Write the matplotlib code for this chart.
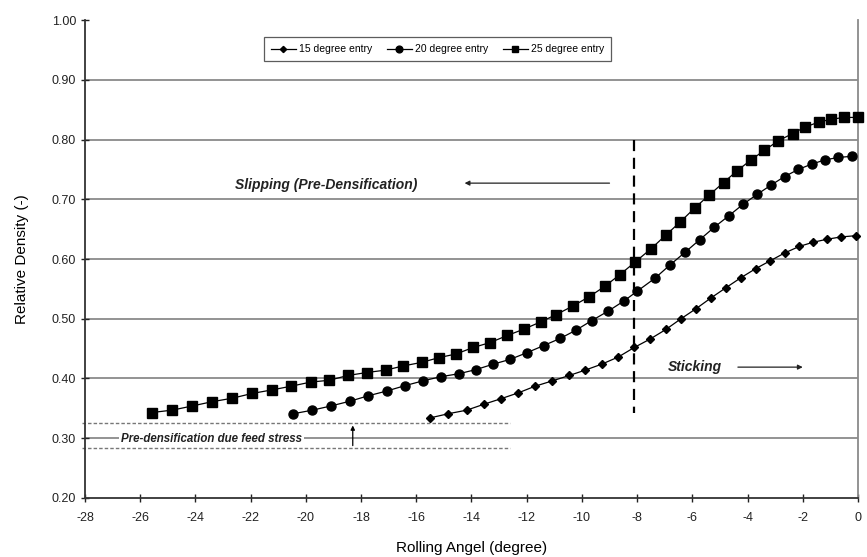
import numpy as np
import matplotlib.pyplot as plt

plt.rcParams['font.family'] = ['Liberation Sans', 'DejaVu Sans']

# relative density vs rolling angle for three entry angles
angle_25 = [-25.58, -24.84, -24.11, -23.41, -22.66, -21.94, -21.21, -20.54, -19.82, -19.15,
            -18.48, -17.79, -17.11, -16.47, -15.80, -15.17, -14.56, -13.93, -13.33, -12.70,
            -12.08, -11.48, -10.93, -10.34, -9.73, -9.18, -8.62, -8.07, -7.50, -6.96,
            -6.44, -5.90, -5.39, -4.87, -4.37, -3.87, -3.39, -2.88, -2.37, -1.91,
            -1.43, -0.97, -0.49, 0.0]
dens_25 = [0.343, 0.347, 0.354, 0.361, 0.367, 0.375, 0.381, 0.387, 0.394, 0.397,
           0.405, 0.410, 0.414, 0.421, 0.427, 0.435, 0.441, 0.452, 0.460, 0.472,
           0.483, 0.495, 0.507, 0.521, 0.537, 0.554, 0.574, 0.595, 0.617, 0.640,
           0.662, 0.686, 0.707, 0.728, 0.748, 0.766, 0.782, 0.798, 0.810, 0.821,
           0.829, 0.834, 0.837, 0.837]

angle_20 = [-20.45, -19.76, -19.09, -18.40, -17.74, -17.07, -16.41, -15.76, -15.11, -14.45,
            -13.83, -13.21, -12.60, -12.00, -11.39, -10.79, -10.21, -9.64, -9.04, -8.47,
            -8.00, -7.35, -6.81, -6.27, -5.74, -5.21, -4.69, -4.15, -3.66, -3.14,
            -2.66, -2.16, -1.67, -1.19, -0.71, -0.20]
dens_20 = [0.341, 0.347, 0.354, 0.362, 0.371, 0.379, 0.388, 0.396, 0.403, 0.408,
           0.415, 0.424, 0.432, 0.443, 0.455, 0.467, 0.481, 0.497, 0.513, 0.530,
           0.546, 0.568, 0.590, 0.611, 0.632, 0.653, 0.672, 0.692, 0.708, 0.724,
           0.738, 0.750, 0.759, 0.766, 0.770, 0.772]

angle_15 = [-15.50, -14.84, -14.17, -13.54, -12.94, -12.30, -11.70, -11.07, -10.46, -9.88,
            -9.28, -8.68, -8.10, -7.53, -6.96, -6.41, -5.86, -5.32, -4.78, -4.23,
            -3.70, -3.18, -2.66, -2.13, -1.63, -1.13, -0.61, -0.08]
dens_15 = [0.334, 0.341, 0.347, 0.357, 0.366, 0.376, 0.387, 0.396, 0.405, 0.414,
           0.424, 0.436, 0.452, 0.466, 0.482, 0.500, 0.517, 0.535, 0.552, 0.569,
           0.584, 0.597, 0.610, 0.621, 0.628, 0.633, 0.637, 0.639]

x_ticks = np.arange(-28, 1, 2)
y_ticks = np.arange(0.2, 1.01, 0.1)

fig = plt.figure(figsize=(8.67, 5.57), dpi=100)
ax = fig.add_axes([0.098, 0.106, 0.8916, 0.858])

for yv in y_ticks[1:-1]:
    ax.axhline(yv, color='#8a8a8a', lw=1.3, zorder=1)

ax.plot(angle_15, dens_15, '-D', color='black', lw=0.9, ms=4.2, label='15 degree entry', clip_on=False, zorder=3)
ax.plot(angle_20, dens_20, '-o', color='black', lw=0.9, ms=6.5, label='20 degree entry', clip_on=False, zorder=3)
ax.plot(angle_25, dens_25, '-s', color='black', lw=0.9, ms=6.5, label='25 degree entry', clip_on=False, zorder=3)

# neutral point
ax.plot([-8.1, -8.1], [0.80, 0.342], color='black', lw=1.6, dashes=(5, 3), zorder=2)

ax.text(-22.57, 0.724, 'Slipping (Pre-Densification)', fontsize=10, style='italic',
        fontweight='bold', color='#222222', va='center', ha='left')
ax.annotate('', xy=(-14.35, 0.727), xytext=(-8.9, 0.727),
            arrowprops=dict(arrowstyle='-|>', color='#222222', lw=0.9, mutation_scale=7))
ax.text(-6.88, 0.42, 'Sticking', fontsize=10, style='italic', fontweight='bold',
        color='#222222', va='center', ha='left')
ax.annotate('', xy=(-1.9, 0.419), xytext=(-4.45, 0.419),
            arrowprops=dict(arrowstyle='-|>', color='#222222', lw=0.9, mutation_scale=7))

# feed stress band
ax.plot([-28.1, -12.6], [0.326, 0.326], color='#777777', lw=1.0, ls=(0, (2.5, 1.5)), zorder=2, clip_on=False)
ax.plot([-28.1, -12.6], [0.283, 0.283], color='#777777', lw=1.0, ls=(0, (2.5, 1.5)), zorder=2, clip_on=False)
ax.text(-26.7, 0.299, 'Pre-densification due feed stress', fontsize=8.3, style='italic',
        fontweight='bold', color='#222222', va='center', ha='left', zorder=4,
        bbox=dict(boxstyle='square,pad=0.15', fc='white', ec='none'))
ax.annotate('', xy=(-18.3, 0.326), xytext=(-18.3, 0.283),
            arrowprops=dict(arrowstyle='-|>', color='black', lw=0.9, mutation_scale=6))

ax.set_xlim(-28, 0)
ax.set_ylim(0.2, 1.0)
ax.set_xticks(x_ticks)
ax.set_xticklabels([str(v) for v in x_ticks])
ax.set_yticks(y_ticks)
ax.set_yticklabels(['%.2f' % v for v in y_ticks])
ax.tick_params(axis='both', direction='inout', length=6, width=1.0, labelsize=9, colors='#222222')
ax.tick_params(axis='x', pad=7)

ax.spines['top'].set_visible(False)
ax.spines['right'].set_color('#8a8a8a')
ax.spines['right'].set_linewidth(1.3)
ax.spines['left'].set_linewidth(1.3)
ax.spines['bottom'].set_linewidth(1.3)
ax.spines['left'].set_color('#333333')
ax.spines['bottom'].set_color('#333333')

ax.set_xlabel('Rolling Angel (degree)', fontsize=11, labelpad=12)
ax.set_ylabel('Relative Density (-)', fontsize=11, labelpad=16)

leg = ax.legend(loc='center', bbox_to_anchor=(0.456, 0.939), ncol=3, fontsize=7.5,
                frameon=True, fancybox=False, edgecolor='#333333', handlelength=2.4,
                handletextpad=0.3, columnspacing=1.4, borderpad=0.7, markerscale=0.75)
leg.get_frame().set_linewidth(0.9)

fig.savefig('out.png', dpi=100)
